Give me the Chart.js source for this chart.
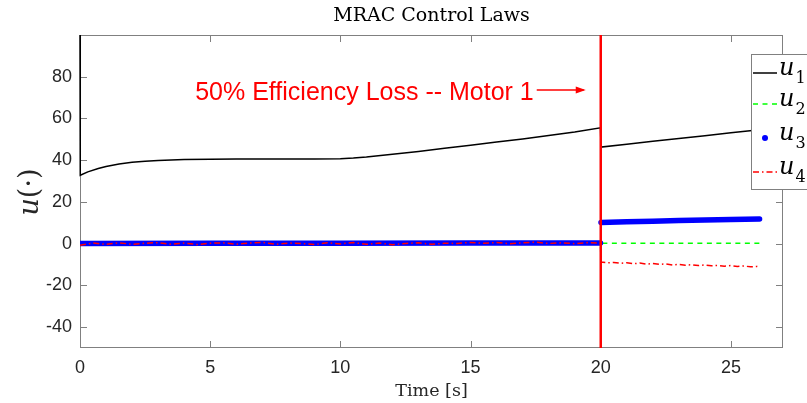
<!DOCTYPE html>
<html><head><meta charset="utf-8">
<script src="https://cdn.jsdelivr.net/npm/chart.js@4.4.1/dist/chart.umd.min.js"></script>
<style>html,body{margin:0;padding:0;background:#fff}canvas{display:block}</style>
</head><body>
<canvas id="c" width="807" height="403"></canvas>
<script>
// ---- data ----
const TITLE = "MRAC Control Laws";
const X_LABEL = "Time [s]";
const ANNOTATION = "50% Efficiency Loss -- Motor 1";
const FAULT_TIME = 20;
const X_TICKS = [0, 5, 10, 15, 20, 25];
const Y_TICKS = [-40, -20, 0, 20, 40, 60, 80];
const LEGEND_LABELS = ["1", "2", "3", "4"];

const t1 = [0, 0.01, 0.3, 0.7, 1, 1.5, 2, 2.5, 3, 4, 5, 6, 7, 8, 9, 10, 10.5, 11, 12, 13, 14, 15, 16, 17, 18, 19, 19.99, 20.01, 21, 22, 23, 24, 25, 26.1];
const u1 = [100, 32.8, 34.4, 36.0, 37.0, 38.2, 39.0, 39.5, 39.9, 40.3, 40.5, 40.6, 40.6, 40.6, 40.6, 40.7, 41.0, 41.5, 42.8, 44.2, 45.7, 47.2, 48.7, 50.2, 51.8, 53.5, 55.5, 46.3, 47.7, 49.1, 50.4, 51.7, 53.1, 54.6];

const t2 = [0, 19.99, 20.01, 26.1];
const u2 = [0, 0, 0.2, 0.2];

const t3 = [0, 5, 10, 15, 19.99, 20, 20.01, 21, 22, 23, 24, 25, 26.1];
const u3 = [0.1, 0.2, 0.2, 0.3, 0.3, null, 10.2, 10.5, 10.8, 11.1, 11.3, 11.6, 11.8];

const t4 = [0, 0.5, 1, 1.5, 2, 2.5, 3, 3.5, 4, 4.5, 5, 5.5, 6, 6.5, 7, 7.5, 8, 8.5, 9, 9.5, 10, 10.5, 11, 11.5, 12, 12.5, 13, 13.5, 14, 14.5, 15, 15.5, 16, 16.5, 17, 17.5, 18, 18.5, 19, 19.5, 19.99,
            20.01, 20.25, 20.5, 20.75, 21, 21.25, 21.5, 21.75, 22, 22.25, 22.5, 22.75, 23, 23.25, 23.5, 23.75, 24, 24.25, 24.5, 24.75, 25, 25.25, 25.5, 25.75, 26, 26.1];
const u4 = [-0.8, 0.3, -0.3, 0.4, -0.3, 0.2, 0.5, -0.3, 0.3, -0.4, 0.2, 0.4, -0.3, 0.3, 0.6, -0.3, 0.3, 0.1, -0.4, 0.4, -0.1, 0.5, -0.3, 0.3, -0.5, 0.1, 0.4, -0.3, 0.2, 0.1, 0.6, 0.2, 0.5, 0.0, 0.4, 0.7, 0.1, 0.4, 0.0, 0.5, 0.3,
            -8.8, -9.2, -9.0, -9.4, -9.1, -9.6, -9.3, -9.8, -9.5, -9.9, -9.7, -10.2, -9.9, -10.3, -10.1, -10.5, -10.2, -10.6, -10.4, -10.8, -10.5, -10.9, -10.7, -11.1, -10.9, -11.2];

const faultT = [FAULT_TIME, FAULT_TIME];
const faultY = [-50, 100];

const pts = (t, v) => t.map((x, i) => ({x: x, y: v[i]}));

// ---- plugins ----
const AXIS_COLOR = '#808080';
const boxPlugin = {
  id: 'box',
  beforeDatasetsDraw(chart) {
    const {ctx, chartArea: a, scales: {x, y}} = chart;
    ctx.save();
    ctx.strokeStyle = AXIS_COLOR;
    ctx.lineWidth = 1;
    ctx.strokeRect(Math.round(a.left) + 0.5, Math.round(a.top) + 0.5, Math.round(a.right - a.left) - 1, Math.round(a.bottom - a.top) - 1);
    const L = 7;
    ctx.beginPath();
    X_TICKS.forEach(v => {
      const px = Math.round(x.getPixelForValue(v)) + 0.5;
      ctx.moveTo(px, a.bottom); ctx.lineTo(px, a.bottom - L);
      ctx.moveTo(px, a.top); ctx.lineTo(px, a.top + L);
    });
    Y_TICKS.forEach(v => {
      const py = Math.round(y.getPixelForValue(v)) + 0.5;
      ctx.moveTo(a.left, py); ctx.lineTo(a.left + L, py);
      ctx.moveTo(a.right, py); ctx.lineTo(a.right - L, py);
    });
    ctx.stroke();
    ctx.restore();
  },
  afterDraw(chart) {
    const {ctx, chartArea: a, scales: {x, y}} = chart;
    ctx.save();
    // title
    ctx.fillStyle = '#000';
    ctx.textAlign = 'center';
    ctx.textBaseline = 'alphabetic';
    ctx.font = '19px "DejaVu Serif"';
    ctx.fillText(TITLE, (a.left + a.right) / 2, 21);
    // x label
    ctx.font = '17.5px "DejaVu Serif"';
    ctx.fillStyle = '#262626';
    ctx.fillText(X_LABEL, (a.left + a.right) / 2, 396);
    // y label u(·)
    ctx.save();
    ctx.translate(38, 192);
    ctx.rotate(-Math.PI / 2);
    ctx.textAlign = 'left';
    ctx.font = 'italic 27px "DejaVu Serif"';
    const uw = ctx.measureText('u').width;
    ctx.font = '27px "DejaVu Serif"';
    const pw = ctx.measureText('(·)').width;
    const start = -(uw + pw) / 2;
    ctx.font = 'italic 27px "DejaVu Serif"';
    ctx.fillText('u', start, 0);
    ctx.font = '27px "DejaVu Serif"';
    ctx.fillText('(·)', start + uw, 0);
    ctx.restore();

    // annotation
    const tip = x.getPixelForValue(FAULT_TIME) - 15;
    const ay = 90;
    ctx.strokeStyle = '#ff0000';
    ctx.fillStyle = '#ff0000';
    ctx.lineWidth = 1.5;
    ctx.beginPath();
    ctx.moveTo(tip - 49, ay); ctx.lineTo(tip - 2, ay);
    ctx.stroke();
    ctx.beginPath();
    ctx.moveTo(tip, ay); ctx.lineTo(tip - 10, ay - 3.5); ctx.lineTo(tip - 10, ay + 3.5); ctx.closePath();
    ctx.fill();
    ctx.font = '25px "Liberation Sans"';
    ctx.textAlign = 'right';
    ctx.fillText(ANNOTATION, tip - 52, 100);

    // legend
    const lx = 751, ly = 54, lw = 80, lh = 135;
    ctx.fillStyle = '#fff';
    ctx.fillRect(lx, ly, lw, lh);
    ctx.strokeStyle = AXIS_COLOR;
    ctx.lineWidth = 1;
    ctx.strokeRect(lx + 0.5, ly + 0.5, lw, lh);
    const rows = [73, 104, 138, 172];
    const ds = chart.data.datasets;
    rows.forEach((ry, i) => {
      const d = ds[i];
      ctx.save();
      if (i === 2) {
        ctx.fillStyle = d.borderColor;
        ctx.beginPath(); ctx.arc(765, ry, 3, 0, Math.PI * 2); ctx.fill();
      } else {
        ctx.strokeStyle = d.borderColor;
        ctx.lineWidth = 1.5;
        ctx.setLineDash(d.borderDash || []);
        ctx.beginPath(); ctx.moveTo(753, ry); ctx.lineTo(777, ry); ctx.stroke();
      }
      ctx.restore();
      ctx.fillStyle = '#000';
      ctx.textAlign = 'left';
      ctx.font = 'italic 24px "DejaVu Serif"';
      ctx.fillText('u', 779, ry + 2);
      const w = ctx.measureText('u').width;
      ctx.font = '16px "DejaVu Serif"';
      ctx.fillText(LEGEND_LABELS[i], 779 + w + 1, ry + 10);
    });
    ctx.restore();
  }
};

const tickFont = {family: '"Liberation Sans", Arial, sans-serif', size: 18};

new Chart(document.getElementById('c'), {
  type: 'line',
  data: {
    datasets: [
      {label: 'u1', data: pts(t1, u1), borderColor: '#000000', borderWidth: 1.5, pointRadius: 0, order: 4, tension: 0, clip: {left: 3, top: 0, right: 0, bottom: 0}},
      {label: 'u2', data: pts(t2, u2), borderColor: '#00ff00', borderWidth: 1.5, borderDash: [5, 4.5], pointRadius: 0, order: 3},
      {label: 'u3', data: pts(t3, u3), borderColor: '#0000ff', borderWidth: 5.5, borderCapStyle: 'round', borderJoinStyle: 'round', pointRadius: 0, spanGaps: false, order: 2},
      {label: 'u4', data: pts(t4, u4), borderColor: '#ff0000', borderWidth: 1.5, borderDash: [6, 3, 1.5, 3], pointRadius: 0, order: 1},
      {label: 'fault', data: pts(faultT, faultY), borderColor: '#ff0000', borderWidth: 2.5, pointRadius: 0, order: 0}
    ]
  },
  options: {
    responsive: false,
    animation: false,
    devicePixelRatio: 1,
    layout: {padding: {top: 35, right: 24, left: 0, bottom: 0}},
    plugins: {legend: {display: false}, tooltip: {enabled: false}, title: {display: false}},
    scales: {
      x: {
        type: 'linear', min: 0, max: 27,
        afterBuildTicks: s => { s.ticks = X_TICKS.map(v => ({value: v})); },
        afterFit: s => { s.height = 55; },
        grid: {display: false, drawTicks: false},
        border: {display: false},
        ticks: {font: tickFont, color: '#262626', padding: 9, maxRotation: 0}
      },
      y: {
        type: 'linear', min: -50, max: 100,
        afterBuildTicks: s => { s.ticks = Y_TICKS.map(v => ({value: v})); },
        afterFit: s => { s.width = 80; },
        grid: {display: false, drawTicks: false},
        border: {display: false},
        ticks: {font: tickFont, color: '#262626', padding: 8}
      }
    }
  },
  plugins: [boxPlugin]
});
</script>
</body></html>
